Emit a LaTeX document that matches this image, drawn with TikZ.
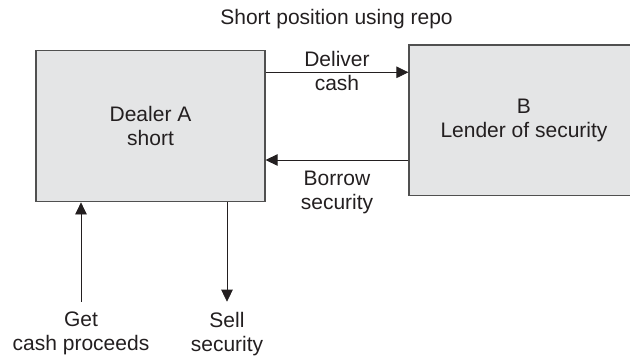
\documentclass[tikz,border=0pt]{standalone}
\usepackage{fontspec}
\setmainfont{Liberation Sans}
\usetikzlibrary{arrows.meta}
\definecolor{boxfill}{HTML}{E4E5E6}
\definecolor{boxline}{HTML}{505050}
\definecolor{ink}{HTML}{231F20}
\begin{document}
\begin{tikzpicture}[x=1pt,y=1pt,
  every node/.style={text=ink,font=\fontsize{21}{24}\selectfont,align=center,inner sep=0pt},
  party/.style={draw=boxline,fill=boxfill,line width=1.2pt,minimum height=151pt},
  arr/.style={draw=ink,line width=0.8pt,-{Triangle[length=12pt,width=11.5pt]}}]
\useasboundingbox (0,0) rectangle (630,357);
\node[anchor=base] (title) at (336.5,332) {Short position using repo};
\node[party,minimum width=229pt] (A) at (150.5,230.7) {Dealer A\\short};
\node[party,minimum width=230pt,minimum height=150.7pt] (B) at (524,236.65) {B\\Lender of security};
\coordinate (dly) at (0,284.7);
\coordinate (bry) at (0,197);
\draw[arr] (A.east |- dly) -- (B.west |- dly);
\draw[arr] (B.west |- bry) -- (A.east |- bry);
\node (dl) at (337,286.3) {Deliver\\cash};
\node (br) at (337,164.5) {Borrow\\security};
\node (get) at (81,23.4) {Get\\cash proceeds};
\node (sell) at (227,23.4) {Sell\\security};
\coordinate (gs) at (81,55.3);
\coordinate (ss) at (227,55.3);
\draw[arr] (gs) -- (A.south -| gs);
\draw[arr] (A.south -| ss) -- (ss);
\end{tikzpicture}
\end{document}
